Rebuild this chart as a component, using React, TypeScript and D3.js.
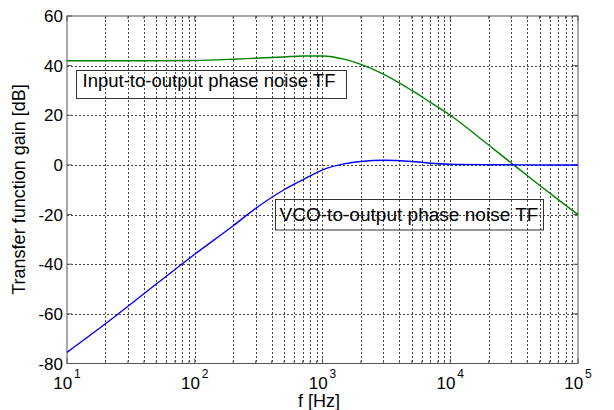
import React from "react";
import * as d3 from "d3";

const freqs = [10, 20, 50, 100, 200, 300, 500, 700, 1000, 1500, 2000, 3000, 5000, 7000, 10000, 20000, 30000, 50000, 70000, 100000];
const inputTF = [42, 42, 42, 42.1, 42.6, 43, 43.5, 43.9, 43.9, 42.5, 40.5, 36.6, 30, 25.2, 20, 8, 0.8, -8.2, -14, -20];
const vcoTF = [-75.5, -64, -48, -36, -24.5, -17.5, -10, -6, -2, 0.5, 1.4, 1.9, 1.4, 0.7, 0.3, 0.1, 0.05, 0, 0, 0];
const yTicks = [60, 40, 20, 0, -20, -40, -60, -80];
const xDecades = [1, 2, 3, 4, 5];
const labelInput = "Input-to-output phase noise TF";
const labelVco = "VCO-to-output phase noise TF";
const xTitle = "f [Hz]";
const yTitle = "Transfer function gain [dB]";

const W = 614, H = 410;
const L = 67, R = 578, T = 16, B = 363.5;

export default function App() {
  const x = d3.scaleLog().domain([10, 100000]).range([L, R]);
  const y = d3.scaleLinear().domain([-80, 60]).range([B, T]);
  const minors: number[] = [];
  for (let d = 1; d < 5; d++) for (let m = 2; m <= 9; m++) minors.push(m * Math.pow(10, d));
  const majors = xDecades.map((e) => Math.pow(10, e));
  const line = (vals: number[]) =>
    d3.line<number>().x((_, i) => x(freqs[i])).y((v) => y(v)).curve(d3.curveMonotoneX)(vals) || "";
  const font = "'Liberation Sans', Arial, sans-serif";
  const grid = "#444";
  const axis = "#555";
  return (
    <svg width={W} height={H} style={{ position: "absolute", left: 0, top: 0, background: "#fff" }} fontFamily={font}>
      <rect x={0} y={0} width={W} height={H} fill="#fff" />
      {/* grid */}
      {[...minors, ...majors.slice(1, -1)].map((f, i) => (
        <line key={"vg" + i} x1={Math.round(x(f)) + 0.5} x2={Math.round(x(f)) + 0.5} y1={T} y2={B} stroke={grid} strokeWidth={1} strokeDasharray="2,2" />
      ))}
      {yTicks.slice(1, -1).map((v) => (
        <line key={"hg" + v} x1={L} x2={R} y1={Math.round(y(v)) + 0.5} y2={Math.round(y(v)) + 0.5} stroke={grid} strokeWidth={1} strokeDasharray="2,2" />
      ))}
      {/* ticks */}
      {yTicks.map((v) => (
        <g key={"yt" + v}>
          <line x1={L} x2={L + 5} y1={y(v)} y2={y(v)} stroke={axis} />
          <line x1={R} x2={R - 5} y1={y(v)} y2={y(v)} stroke={axis} />
        </g>
      ))}
      {majors.map((f) => (
        <g key={"xt" + f}>
          <line x1={x(f)} x2={x(f)} y1={B} y2={B - 5} stroke={axis} />
          <line x1={x(f)} x2={x(f)} y1={T} y2={T + 5} stroke={axis} />
        </g>
      ))}
      {minors.map((f) => (
        <g key={"xm" + f}>
          <line x1={x(f)} x2={x(f)} y1={B} y2={B - 3} stroke={axis} />
          <line x1={x(f)} x2={x(f)} y1={T} y2={T + 3} stroke={axis} />
        </g>
      ))}
      {/* box */}
      <rect x={L} y={T} width={R - L} height={B - T} fill="none" stroke={axis} strokeWidth={1} />
      {/* curves */}
      <path d={line(inputTF)} fill="none" stroke="#008000" strokeWidth={1.4} />
      <path d={line(vcoTF)} fill="none" stroke="#0000ff" strokeWidth={1.4} />
      {/* labels */}
      <rect x={76.5} y={70.5} width={270} height={28} fill="none" stroke="#333" />
      <text x={82.5} y={87} fontSize={18} textLength={253} lengthAdjust="spacingAndGlyphs">{labelInput}</text>
      <rect x={275.5} y={199.5} width={268} height={30.5} fill="none" stroke="#333" />
      <text x={279.5} y={221} fontSize={18} textLength={259} lengthAdjust="spacingAndGlyphs">{labelVco}</text>
      {/* y tick labels */}
      {yTicks.map((v) => (
        <text key={"yl" + v} x={63} y={y(v) + 6} fontSize={17} textAnchor="end">{v}</text>
      ))}
      {/* x tick labels */}
      {xDecades.map((e) => (
        <text key={"xl" + e} x={x(Math.pow(10, e))} y={389} fontSize={17} textAnchor="middle">
          10<tspan dx={2} dy={-11} fontSize={12}>{e}</tspan>
        </text>
      ))}
      <text x={319} y={407} fontSize={18} textAnchor="middle">{xTitle}</text>
      <text transform={`translate(25,${(82 + 297) / 2}) rotate(-90)`} fontSize={18} textAnchor="middle">{yTitle}</text>
    </svg>
  );
}
